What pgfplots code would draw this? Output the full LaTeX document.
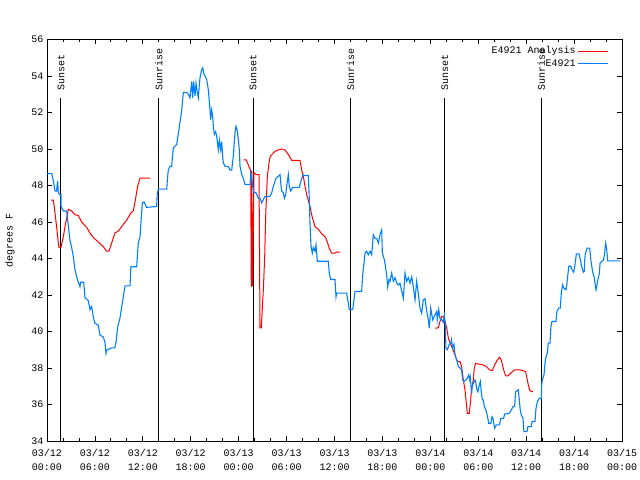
\documentclass[border=0pt]{standalone}
\usepackage{pgfplots}
\pgfplotsset{compat=1.18}
\usepackage{fontspec}
\setmainfont{Liberation Mono}
\definecolor{obsblue}{RGB}{0,128,255}
\definecolor{anared}{RGB}{255,0,0}
\begin{document}
\begin{tikzpicture}
\useasboundingbox (0,0) rectangle (640bp,480bp);
\begin{axis}[
  at={(47bp,39bp)}, anchor=south west,
  scale only axis, width=575bp, height=401.5bp,
  xmin=0, xmax=72, ymin=34, ymax=56,
  xtick={0,6,...,72}, minor x tick num=2,
  ytick={34,36,...,56},
  xticklabels={{03/12\\00:00},{03/12\\06:00},{03/12\\12:00},{03/12\\18:00},{03/13\\00:00},{03/13\\06:00},{03/13\\12:00},{03/13\\18:00},{03/14\\00:00},{03/14\\06:00},{03/14\\12:00},{03/14\\18:00},{03/15\\00:00}},
  xticklabel style={align=center, yshift=-5bp, font=\fontsize{10bp}{13.5bp}\selectfont},
  yticklabel style={font=\fontsize{10bp}{12bp}\selectfont},
  /pgf/number format/assume math mode=true,
  tick align=inside,
  major tick length=5bp, minor tick length=3bp,
  axis line style={line width=1bp},
  every tick/.style={black, line width=0.8bp},
  unbounded coords=jump,
  legend style={at={(1,1)}, anchor=north east, draw=none, fill=none,
    legend cell align=right, font=\fontsize{10bp}{12bp}\selectfont,
    row sep=0bp, xshift=-10bp, yshift=-3bp},
  legend plot pos=right,
  legend image code/.code={\draw[#1] (0bp,0bp) -- (30bp,0bp);},
]
% sunrise / sunset markers
\addplot[black, line width=1bp, forget plot] coordinates {(1.75,34) (1.75,52.8)};
\addplot[black, line width=1bp, forget plot] coordinates {(14.0,34) (14.0,52.8)};
\addplot[black, line width=1bp, forget plot] coordinates {(25.8,34) (25.8,52.8)};
\addplot[black, line width=1bp, forget plot] coordinates {(38.0,34) (38.0,52.8)};
\addplot[black, line width=1bp, forget plot] coordinates {(49.8,34) (49.8,52.8)};
\addplot[black, line width=1bp, forget plot] coordinates {(61.9,34) (61.9,52.8)};
\node[rotate=90, anchor=west, inner sep=0pt, font=\fontsize{10bp}{12bp}\selectfont] at (axis cs:1.75,53.2) {Sunset};
\node[rotate=90, anchor=west, inner sep=0pt, font=\fontsize{10bp}{12bp}\selectfont] at (axis cs:14.0,53.2) {Sunrise};
\node[rotate=90, anchor=west, inner sep=0pt, font=\fontsize{10bp}{12bp}\selectfont] at (axis cs:25.8,53.2) {Sunset};
\node[rotate=90, anchor=west, inner sep=0pt, font=\fontsize{10bp}{12bp}\selectfont] at (axis cs:38.0,53.2) {Sunrise};
\node[rotate=90, anchor=west, inner sep=0pt, font=\fontsize{10bp}{12bp}\selectfont] at (axis cs:49.8,53.2) {Sunset};
\node[rotate=90, anchor=west, inner sep=0pt, font=\fontsize{10bp}{12bp}\selectfont] at (axis cs:61.9,53.2) {Sunrise};
% analysis
\addplot[anared, line width=1bp] coordinates {
(0.5,47.2) (0.8,47.2) (1.0,46.5) (1.2,45.75) (1.42,44.85) (1.5,44.6) (1.75,44.6) (1.84,44.8)
(2.05,45.2) (2.25,45.75) (2.46,46.2) (2.67,46.7) (3.09,46.6) (3.5,46.4) (3.92,46.35) (4.34,46.0)
(4.97,45.7) (5.38,45.4) (5.8,45.15) (6.43,44.9) (7.05,44.65) (7.47,44.4) (7.76,44.4) (8.1,44.85)
(8.5,45.4) (8.93,45.5) (9.35,45.75) (9.98,46.1) (10.5,46.5) (10.8,46.6) (11.1,47.3) (11.35,47.95)
(11.65,48.4) (12.9,48.4)
(13.0,nan)
(24.58,49.4) (24.95,49.4) (25.51,48.8) (25.58,42.45) (25.65,48.8) (25.72,42.5) (25.8,44.6) (25.92,48.7)
(26.2,48.6) (26.55,48.6) (26.67,40.2) (26.83,40.2) (27.09,42.3) (27.26,44.1) (27.38,46.3) (27.59,48.5)
(27.8,49.25) (27.96,49.6) (28.55,49.87) (28.96,49.95) (29.39,50.0) (29.8,49.95) (30.22,49.7) (30.64,49.38)
(31.68,49.38) (31.89,48.85) (32.1,48.5) (32.31,47.95) (32.52,47.5) (32.93,46.85) (33.14,46.4) (33.35,46.05)
(33.56,45.75) (33.97,45.6) (34.4,45.35) (34.81,45.2) (35.1,44.9) (35.35,44.55) (35.65,44.3) (36.06,44.3)
(36.27,44.35) (36.69,44.35)
(37.0,nan)
(48.59,40.18) (49.0,40.2) (49.21,40.55) (49.42,40.82) (49.7,40.8) (50.05,40.18) (50.26,39.63) (50.68,39.17)
(51.09,38.72) (51.3,38.44) (51.51,38.35) (51.72,38.35) (51.92,38.08) (52.13,37.35) (52.34,36.8) (52.55,35.88)
(52.63,35.52) (52.88,35.52) (53.05,36.25) (53.17,36.89) (53.38,37.35) (53.5,37.99) (53.67,38.26) (54.0,38.22)
(54.59,38.17) (55.0,38.08) (55.42,37.9) (55.76,37.85) (56.05,38.17) (56.34,38.4) (56.67,38.59) (56.88,38.44)
(57.18,37.9) (57.43,37.57) (57.72,37.57) (58.14,37.75) (58.55,37.9) (59.18,37.9) (59.6,37.85) (59.93,37.81)
(60.1,37.44) (60.22,37.17) (60.43,36.8) (60.64,36.7) (60.85,36.7)
};
\addlegendentry{E4921 Analysis}
% observations
\addplot[obsblue, line width=1.1bp] coordinates {
(0.0,48.65) (0.6,48.65) (0.8,48.25) (1.0,47.7) (1.2,47.7) (1.33,48.25) (1.42,47.6) (1.6,47.5)
(1.75,47.5) (1.76,46.85) (2.05,46.6) (2.46,46.6) (2.59,46.1) (2.88,45.0) (3.09,44.6) (3.3,44.1)
(3.5,43.4) (3.71,43.0) (3.92,42.7) (4.13,42.45) (4.2,42.7) (4.6,42.7) (4.76,41.85) (5.17,41.7)
(5.38,41.2) (5.59,41.37) (5.8,40.8) (6.0,40.45) (6.43,40.35) (6.64,39.8) (7.05,39.7) (7.26,39.4)
(7.39,38.8) (7.47,38.98) (8.1,39.1) (8.5,39.1) (8.64,39.4) (8.85,40.25) (9.14,40.75) (9.43,41.55)
(9.77,42.5) (10.4,42.5) (10.5,43.55) (11.23,43.55) (11.43,44.85) (11.65,45.2) (11.77,46.0) (11.94,47.05)
(12.15,47.1) (12.48,46.8) (13.73,46.85) (13.8,47.5) (13.94,47.8) (14.99,47.8) (15.07,48.3) (15.19,48.85)
(15.4,49.05) (15.61,49.05) (15.82,50.07) (16.24,50.25) (16.65,51.45) (16.87,52.15) (17.07,53.1) (17.49,53.1)
(17.7,53.0) (17.9,52.8) (18.12,53.7) (18.24,52.8) (18.37,53.7) (18.53,52.9) (18.66,53.6) (18.82,53.1)
(18.95,52.8) (19.07,53.5) (19.16,53.9) (19.37,54.35) (19.5,54.45) (19.66,54.1) (20.0,53.8) (20.2,53.25)
(20.41,52.15) (20.49,51.6) (20.62,52.15) (20.74,51.8) (20.83,51.25) (20.95,50.8) (21.12,50.95) (21.25,50.7)
(21.45,49.95) (21.58,50.5) (21.75,49.95) (21.87,50.4) (22.0,49.6) (22.08,49.25) (22.29,49.05) (22.7,49.05)
(22.92,48.85) (23.13,48.85) (23.33,49.6) (23.54,50.9) (23.67,51.25) (23.83,51.0) (23.96,50.5) (24.08,49.95)
(24.17,49.05) (24.38,48.6) (24.58,48.4) (24.79,48.05) (25.2,48.05) (25.42,48.05) (25.54,48.7) (25.76,47.95)
(25.92,47.6) (26.17,47.6) (26.46,47.3) (26.67,47.3) (26.88,47.05) (27.3,47.4) (27.92,47.4) (28.14,47.6)
(28.34,47.95) (28.68,48.4) (28.96,48.5) (29.18,48.6) (29.3,48.0) (29.39,47.7) (29.59,47.6) (29.72,47.3)
(29.89,47.5) (30.01,47.95) (30.22,48.6) (30.34,47.95) (30.51,47.7) (30.76,47.9) (31.6,47.9) (31.77,48.2)
(32.02,48.55) (32.72,48.55) (32.85,47.2) (32.93,45.95) (33.06,44.65) (33.22,44.3) (33.35,44.6) (33.56,44.4)
(33.68,44.75) (33.85,43.85) (35.22,43.85) (35.35,43.2) (35.52,42.85) (36.06,42.85) (36.19,41.9) (36.27,42.1)
(37.52,42.1) (37.73,41.55) (37.85,41.2) (38.28,41.2) (38.57,42.2) (39.4,42.2) (39.53,43.1) (39.69,43.75)
(39.82,44.3) (40.03,44.4) (40.23,44.2) (40.45,44.4) (40.66,44.2) (40.86,45.3) (41.07,45.1) (41.28,45.1)
(41.49,44.85) (41.7,45.3) (41.91,45.57) (41.99,44.3) (42.2,44.0) (42.32,43.75) (42.53,43.1) (42.66,42.45)
(42.83,42.85) (42.95,42.75) (43.16,43.2) (43.36,42.75) (43.58,42.95) (43.79,42.65) (43.99,42.55) (44.2,42.65)
(44.42,42.2) (44.62,41.83) (44.83,43.2) (45.04,42.75) (45.24,42.95) (45.45,42.65) (45.67,43.0) (45.87,42.45)
(46.08,41.73) (46.29,42.75) (46.49,42.1) (46.71,41.28) (46.92,41.0) (47.12,41.73) (47.33,41.8) (47.55,41.1)
(47.75,40.64) (47.87,40.18) (48.05,41.28) (48.3,40.64) (48.59,40.9) (48.8,41.1) (48.87,40.64) (49.05,41.2)
(49.21,40.7) (49.42,40.64) (49.6,40.5) (49.75,40.9) (49.87,40.27) (49.96,39.08) (50.13,39.0) (50.26,39.17)
(50.38,39.3) (50.47,39.36) (50.59,39.36) (50.64,39.54) (50.8,39.1) (50.96,39.3) (51.09,38.72) (51.3,38.44)
(51.51,38.08) (51.72,38.0) (51.92,37.9) (52.05,37.35) (52.21,37.26) (52.47,37.35) (52.63,37.44) (52.8,37.62)
(52.93,37.35) (53.0,37.5) (53.17,36.6) (53.25,36.98) (53.38,37.17) (53.59,37.35) (53.7,37.17) (53.84,36.8)
(53.96,36.7) (54.09,36.98) (54.26,37.26) (54.38,36.7) (54.51,36.25) (54.64,36.25) (54.76,35.88) (54.96,35.7)
(55.17,35.33) (55.3,34.97) (55.59,34.97) (55.72,35.33) (55.85,35.24) (56.05,34.7) (56.26,34.88) (56.67,34.88)
(56.8,35.24) (57.18,35.24) (57.3,35.48) (57.72,35.5) (57.93,35.55) (58.14,35.7) (58.35,35.88) (58.55,35.88)
(58.68,36.7) (59.01,36.8) (59.1,36.43) (59.26,35.7) (59.39,35.43) (59.6,35.24) (59.72,34.51) (60.1,34.51)
(60.22,34.79) (60.64,34.79) (60.73,35.06) (61.1,35.06) (61.23,35.79) (61.4,36.16) (61.65,36.34) (61.9,36.34)
(61.94,37.07) (62.02,37.35) (62.23,37.62) (62.36,38.26) (62.44,38.54) (62.65,38.81) (62.77,39.36) (62.98,39.36)
(63.1,40.27) (63.23,40.55) (63.73,40.55) (63.85,41.1) (64.06,41.28) (64.27,41.28) (64.4,42.1) (64.56,42.56)
(64.69,42.4) (64.98,42.28) (65.1,42.6) (65.33,43.56) (65.45,43.6) (65.6,43.56) (65.74,43.38) (65.95,43.25)
(66.08,43.56) (66.2,43.96) (66.28,44.25) (66.62,44.25) (66.83,43.84) (66.95,43.56) (67.16,43.25) (67.28,43.3)
(67.32,43.84) (67.4,44.25) (67.62,44.57) (67.95,44.57) (68.04,44.2) (68.12,43.84) (68.33,43.25) (68.5,43.02)
(68.62,42.65) (68.75,42.28) (68.83,42.45) (68.96,42.8) (69.17,43.2) (69.25,43.75) (69.46,43.84) (69.67,43.9)
(69.8,44.2) (69.96,44.84) (70.09,44.48) (70.21,43.87) (71.75,43.87)
};
\addlegendentry{E4921}
\node[anchor=base, font=\fontsize{10bp}{12bp}\selectfont] at (rel axis cs:0.5,1) [yshift=15bp] {Dew Point for E4921 on 2025-Mar-12 (time in UTC)};
\end{axis}
\node[rotate=90, anchor=center, font=\fontsize{10bp}{12bp}\selectfont] at (10bp,240bp) {degrees F};
\end{tikzpicture}
\end{document}
